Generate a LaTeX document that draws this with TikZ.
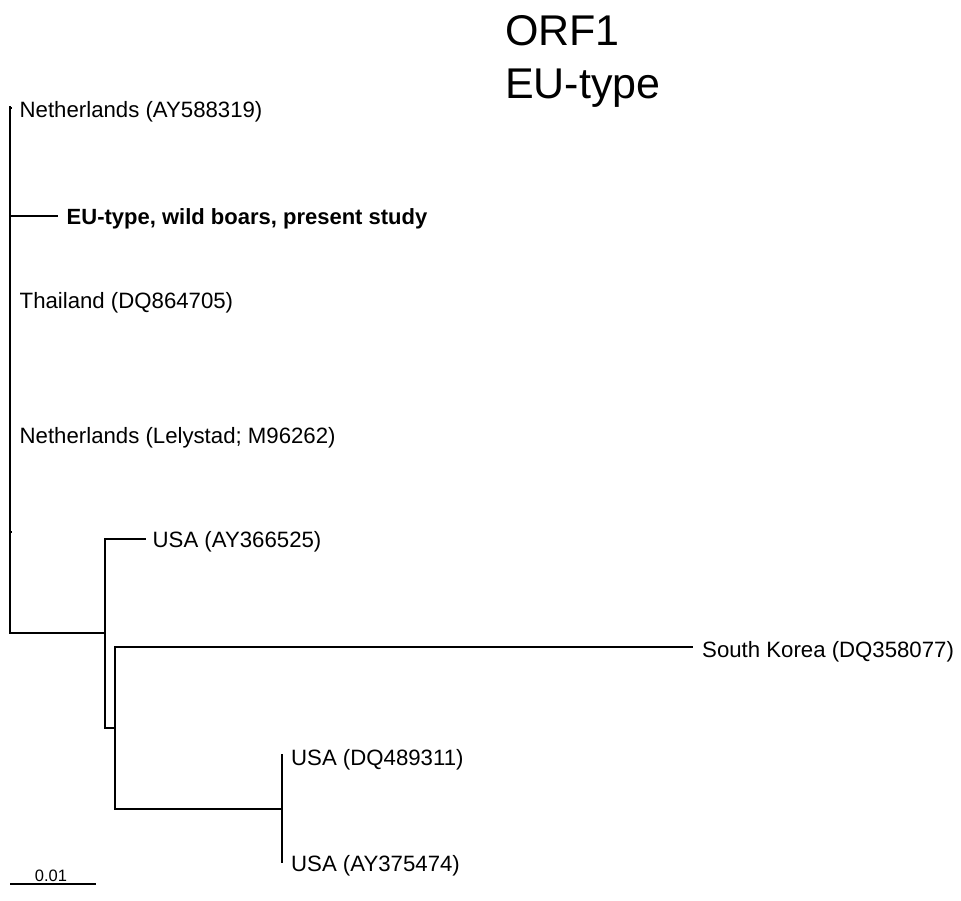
\documentclass[tikz,border=0pt]{standalone}
\usepackage{fontspec}
\setmainfont{Liberation Sans}
\begin{document}
\begin{tikzpicture}[x=1pt,y=-1pt,
  branch/.style={line width=2pt,line cap=rect},
  thinbranch/.style={line width=1.4pt},
  leaf/.style={anchor=base west,inner sep=0pt,font=\fontsize{22.2}{26}\selectfont},
  boldleaf/.style={leaf,font=\fontsize{22}{26}\selectfont\bfseries},
  titletext/.style={anchor=base west,inner sep=0pt,font=\fontsize{43}{52}\selectfont},
  scaletext/.style={anchor=base,inner sep=0pt,font=\fontsize{16.5}{20}\selectfont}]
\useasboundingbox (0,0) rectangle (961,900);
% title
\node[titletext] (t1) at (505,45) {ORF1};
\node[titletext] (t2) at (505,98) {EU-type};
% tree coordinates
\coordinate (top) at (10,107);
\coordinate (nl1) at (10,108);
\coordinate (nl1t) at (12,108);
\coordinate (eu0) at (10,216);
\coordinate (eu1) at (57,216);
\coordinate (tk0) at (10,532);
\coordinate (tk1) at (12,532);
\coordinate (rb) at (10,633);
\coordinate (a) at (105,633);
\coordinate (atop) at (105,539);
\coordinate (usa1) at (145,539);
\coordinate (abot) at (105,728);
\coordinate (b) at (115,728);
\coordinate (btop) at (115,647);
\coordinate (sk) at (692,647);
\coordinate (bbot) at (115,809);
\coordinate (c) at (282,809);
\coordinate (ctop) at (282,754);
\coordinate (cbot) at (282,863);
\coordinate (s0) at (10,884);
\coordinate (s1) at (96,884);
% branches
\draw[branch] (top) -- (rb);
\draw[line width=1.5pt] (nl1) -- (nl1t);
\draw[line width=1.5pt] (tk0) -- (tk1);
\draw[branch] (eu0) -- (eu1);
\draw[branch] (rb) -- (a);
\draw[branch] (atop) -- (abot);
\draw[branch] (atop) -- (usa1);
\draw[branch] (abot) -- (b);
\draw[branch] (btop) -- (bbot);
\draw[branch] (btop) -- (sk);
\draw[branch] (bbot) -- (c);
\draw[thinbranch] (ctop) -- (cbot);
% labels
\node[leaf] (L1) at (19.5,117.5) {Netherlands (AY588319)};
\node[boldleaf] (L2) at (66.5,224.5) {EU-type, wild boars, present study};
\node[leaf] (L3) at (19.5,308.5) {Thailand (DQ864705)};
\node[leaf] (L4) at (19.5,443) {Netherlands (Lelystad; M96262)};
\node[leaf] (L5) at (152.5,547.5) {USA (AY366525)};
\node[leaf] (L6) at (702,657) {South Korea (DQ358077)};
\node[leaf] (L7) at (291,765) {USA (DQ489311)};
\node[leaf] (L8) at (291,871) {USA (AY375474)};
% scale bar
\draw[branch,line cap=butt] (s0) -- (s1);
\node[scaletext] (sc) at (51,881) {0.01};
\end{tikzpicture}
\end{document}
